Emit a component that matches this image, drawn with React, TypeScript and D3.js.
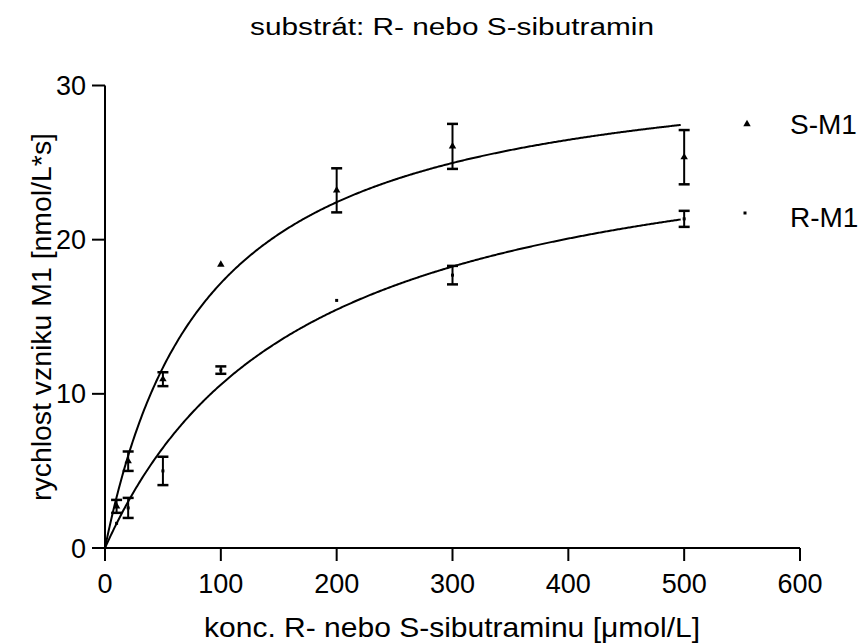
import React from "react";
import * as d3 from "d3";

const W = 859;
const H = 644;

// data
const conc = [10, 20, 50, 100, 200, 300, 500];
const sM1 = [2.7, 5.63, 10.95, 18.38, 23.2, 26.05, 25.35];
const sM1Err = [0.42, 0.63, 0.45, 0, 1.43, 1.46, 1.76];
const rM1 = [1.6, 2.6, 5.0, 11.54, 16.06, 17.7, 21.35];
const rM1Err = [0, 0.65, 0.92, 0.24, 0, 0.6, 0.52];

// Michaelis-Menten fit parameters [Vmax, Km]
const sFit = [32.3, 88];
const rFit = [28.6, 170];
const fitMaxX = 497;

const xTicks = [0, 100, 200, 300, 400, 500, 600];
const yTicks = [0, 10, 20, 30];

const title = "substrát: R- nebo S-sibutramin";
const xLabel = "konc. R- nebo S-sibutraminu [\u03bcmol/L]";
const yLabel = "rychlost vzniku M1  [nmol/L*s]";
const seriesNames = ["S-M1", "R-M1"];

const FONT = "'Liberation Sans', Arial, Helvetica, sans-serif";

export default function App() {
  const x = d3.scaleLinear().domain([0, 600]).range([105, 800]);
  const y = d3.scaleLinear().domain([0, 30]).range([548, 85.5]);

  const mm = (p: number[]) => (c: number) => (p[0] * c) / (p[1] + c);
  const samples = d3.range(0, fitMaxX + 0.01, 1);
  const line = d3
    .line<number>()
    .x((c) => x(c))
    .curve(d3.curveLinear);

  const sPath = line.y((c) => y(mm(sFit)(c)))(samples) || "";
  const rPath = line.y((c) => y(mm(rFit)(c)))(samples) || "";

  const tri = d3.symbol(d3.symbolTriangle, 24)() || "";
  const sq = d3.symbol(d3.symbolSquare, 9)() || "";

  const errBars = (vals: number[], errs: number[]) =>
    conc.map((c, i) =>
      errs[i] > 0 ? (
        <g key={i}>
          <line x1={x(c)} x2={x(c)} y1={y(vals[i] - errs[i])} y2={y(vals[i] + errs[i])} stroke="#000" strokeWidth={2} />
          <line x1={x(c) - 5.5} x2={x(c) + 5.5} y1={y(vals[i] - errs[i])} y2={y(vals[i] - errs[i])} stroke="#000" strokeWidth={2.5} />
          <line x1={x(c) - 5.5} x2={x(c) + 5.5} y1={y(vals[i] + errs[i])} y2={y(vals[i] + errs[i])} stroke="#000" strokeWidth={2.5} />
        </g>
      ) : null
    );

  return (
    <svg width={W} height={H} style={{ position: "absolute", left: 0, top: 0, background: "#fff" }} fontFamily={FONT}>
      <rect width={W} height={H} fill="#fff" />
      <text x={452} y={35} textAnchor="middle" fontSize={23} fill="#000" textLength={404} lengthAdjust="spacingAndGlyphs">
        {title}
      </text>

      {/* axes */}
      <line x1={x(0)} x2={x(600)} y1={y(0)} y2={y(0)} stroke="#000" strokeWidth={2} />
      <line x1={x(0)} x2={x(0)} y1={y(0)} y2={y(30)} stroke="#000" strokeWidth={2} />
      {xTicks.map((t) => (
        <g key={"x" + t}>
          <line x1={x(t)} x2={x(t)} y1={y(0)} y2={y(0) + 13} stroke="#000" strokeWidth={2} />
          <text x={x(t)} y={593} textAnchor="middle" fontSize={27} fill="#000">
            {t}
          </text>
        </g>
      ))}
      {yTicks.map((t) => (
        <g key={"y" + t}>
          <line x1={x(0) - 13} x2={x(0)} y1={y(t)} y2={y(t)} stroke="#000" strokeWidth={2} />
          <text x={86} y={y(t) + 9.5} textAnchor="end" fontSize={27} fill="#000">
            {t}
          </text>
        </g>
      ))}
      <text x={452} y={637} textAnchor="middle" fontSize={28} fill="#000" textLength={496} lengthAdjust="spacingAndGlyphs">
        {xLabel}
      </text>
      <text transform={`translate(51,317) rotate(-90)`} textAnchor="middle" fontSize={27} fill="#000" textLength={368} lengthAdjust="spacingAndGlyphs">
        {yLabel}
      </text>

      {/* curves */}
      <path d={sPath} fill="none" stroke="#000" strokeWidth={2} />
      <path d={rPath} fill="none" stroke="#000" strokeWidth={2} />

      {errBars(sM1, sM1Err)}
      {errBars(rM1, rM1Err)}

      {conc.map((c, i) => (
        <path key={"s" + i} d={tri} transform={`translate(${x(c)},${y(sM1[i])})`} fill="#000" />
      ))}
      {conc.map((c, i) => (
        <path key={"r" + i} d={sq} transform={`translate(${x(c)},${y(rM1[i])})`} fill="#000" />
      ))}

      {/* legend */}
      <path d={tri} transform="translate(747,124)" fill="#000" />
      <text x={790} y={134} fontSize={28} fill="#000">
        {seriesNames[0]}
      </text>
      <path d={sq} transform="translate(745,213)" fill="#000" />
      <text x={790} y={227} fontSize={28} fill="#000">
        {seriesNames[1]}
      </text>
    </svg>
  );
}
